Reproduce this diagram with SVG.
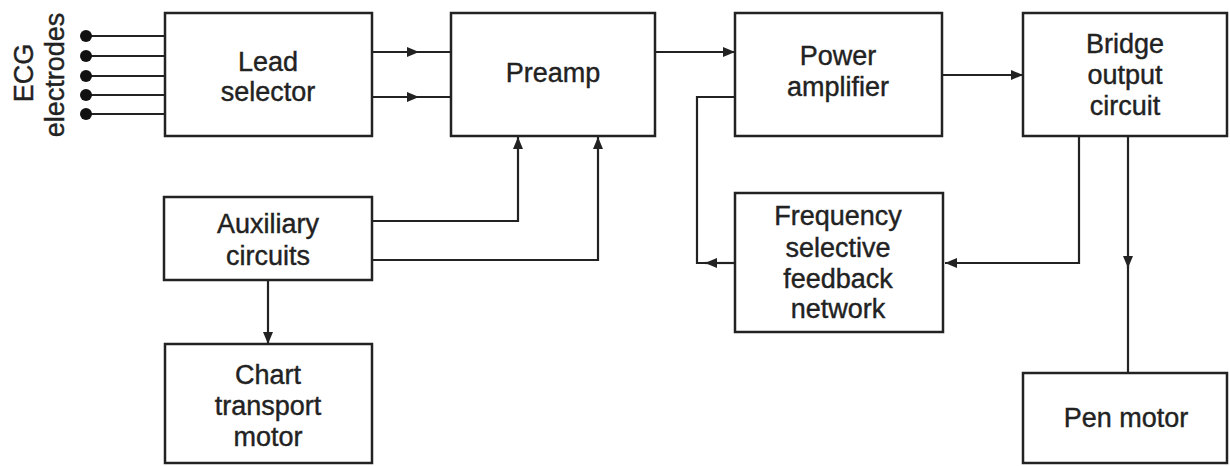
<svg xmlns="http://www.w3.org/2000/svg" width="1230" height="466" viewBox="0 0 1230 466">
<style>
.box{fill:#fff;stroke:#222;stroke-width:2.5}
.t{font-family:"Liberation Sans",Arial,sans-serif;font-size:27px;fill:#222;stroke:#222;stroke-width:0.4;text-anchor:middle}
.c{fill:none;stroke:#222;stroke-width:2.2}
.dot{fill:#111}
</style>
<defs>
<marker id="ah" markerUnits="userSpaceOnUse" markerWidth="13" markerHeight="10" refX="12" refY="5" orient="auto">
<path d="M0,0 L12,5 L0,10 z" fill="#222"/>
</marker>
</defs>
<rect width="1230" height="466" fill="#fff"/>
<g id="connectors">
<line class="c" x1="86" y1="36" x2="165" y2="36"/>
<line class="c" x1="86" y1="56" x2="165" y2="56"/>
<line class="c" x1="86" y1="76" x2="165" y2="76"/>
<line class="c" x1="86" y1="95" x2="165" y2="95"/>
<line class="c" x1="86" y1="114" x2="165" y2="114"/>
<circle class="dot" cx="86" cy="36" r="6"/>
<circle class="dot" cx="86" cy="56" r="6"/>
<circle class="dot" cx="86" cy="76" r="6"/>
<circle class="dot" cx="86" cy="95" r="6"/>
<circle class="dot" cx="86" cy="114" r="6"/>
<line class="c" x1="372" y1="52" x2="419" y2="52" marker-end="url(#ah)"/>
<line class="c" x1="418" y1="52" x2="451" y2="52"/>
<line class="c" x1="372" y1="97" x2="419" y2="97" marker-end="url(#ah)"/>
<line class="c" x1="418" y1="97" x2="451" y2="97"/>
<line class="c" x1="655" y1="52" x2="735" y2="52" marker-end="url(#ah)"/>
<line class="c" x1="942" y1="75" x2="1023" y2="75" marker-end="url(#ah)"/>
<polyline class="c" points="372,221 518,221 518,137" marker-end="url(#ah)"/>
<polyline class="c" points="372,260 598,260 598,137" marker-end="url(#ah)"/>
<line class="c" x1="268" y1="280" x2="268" y2="344" marker-end="url(#ah)"/>
<polyline class="c" points="1079,136 1079,263 945,263" marker-end="url(#ah)"/>
<line class="c" x1="735" y1="263" x2="705" y2="263" marker-end="url(#ah)"/>
<polyline class="c" points="706,263 697,263 697,97 735,97"/>
<line class="c" x1="1128" y1="136" x2="1128" y2="268" marker-end="url(#ah)"/>
<line class="c" x1="1128" y1="266" x2="1128" y2="373"/>
</g>
<g id="ecg-label">
<text class="t" transform="translate(33,73) rotate(-90)">ECG</text>
<text class="t" transform="translate(64,75) rotate(-90)">electrodes</text>
</g>
<g id="lead-selector">
<rect class="box" x="165" y="13" width="207" height="123"/>
<text class="t" x="268" y="71">Lead</text>
<text class="t" x="268" y="101">selector</text>
</g>
<g id="preamp">
<rect class="box" x="451" y="13" width="204" height="123"/>
<text class="t" x="553" y="82">Preamp</text>
</g>
<g id="power-amplifier">
<rect class="box" x="735" y="13" width="207" height="123"/>
<text class="t" x="838" y="65">Power</text>
<text class="t" x="838" y="96">amplifier</text>
</g>
<g id="bridge-output">
<rect class="box" x="1023" y="13" width="204" height="123"/>
<text class="t" x="1125" y="53">Bridge</text>
<text class="t" x="1125" y="84">output</text>
<text class="t" x="1125" y="115">circuit</text>
</g>
<g id="auxiliary-circuits">
<rect class="box" x="164" y="197" width="208" height="83"/>
<text class="t" x="268" y="233">Auxiliary</text>
<text class="t" x="268" y="265">circuits</text>
</g>
<g id="chart-transport-motor">
<rect class="box" x="165" y="344" width="207" height="119"/>
<text class="t" x="268" y="384">Chart</text>
<text class="t" x="268" y="415">transport</text>
<text class="t" x="268" y="446">motor</text>
</g>
<g id="feedback-network">
<rect class="box" x="735" y="193" width="208" height="139"/>
<text class="t" x="838" y="225">Frequency</text>
<text class="t" x="838" y="257">selective</text>
<text class="t" x="838" y="288">feedback</text>
<text class="t" x="838" y="318">network</text>
</g>
<g id="pen-motor">
<rect class="box" x="1023" y="373" width="204" height="90"/>
<text class="t" x="1126" y="427">Pen motor</text>
</g>
</svg>
